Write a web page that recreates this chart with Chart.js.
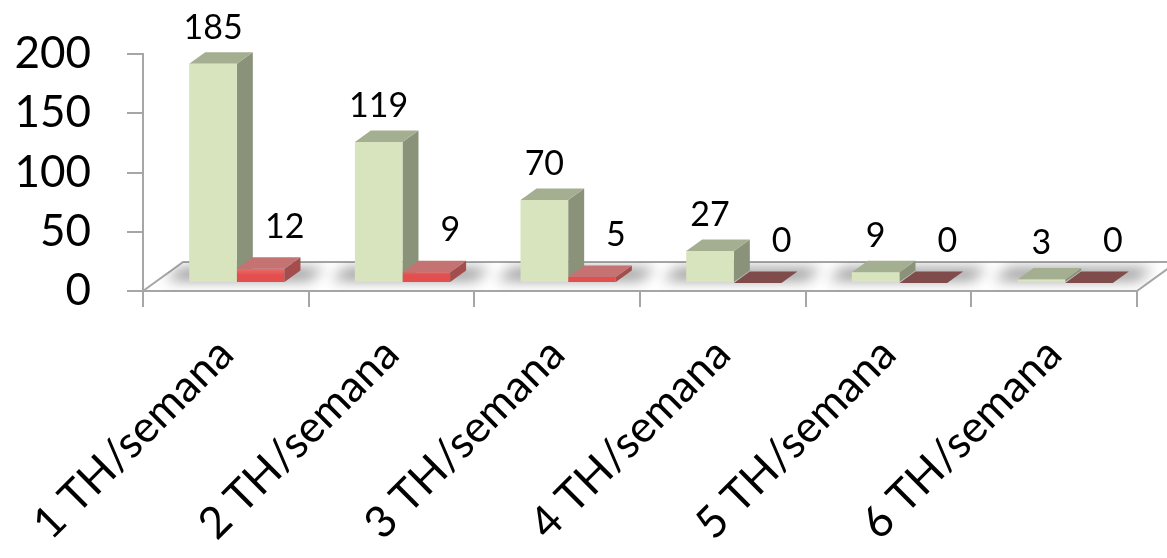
<!DOCTYPE html>
<html>
<head>
<meta charset="utf-8">
<script src="https://cdn.jsdelivr.net/npm/chart.js@4.4.1/dist/chart.umd.min.js"></script>
<style>
  html, body { margin: 0; padding: 0; background: #ffffff; }
  #wrap { width: 1167px; height: 558px; }
</style>
</head>
<body>
<div id="wrap"><canvas id="c" width="1167" height="558"></canvas></div>
<script>
// Weekly frequency categories and the two counted series
const categories = ['1 TH/semana', '2 TH/semana', '3 TH/semana', '4 TH/semana', '5 TH/semana', '6 TH/semana'];
const seriesGreen = [185, 119, 70, 27, 9, 3];
const seriesRed = [12, 9, 5, 0, 0, 0];
const yTicks = [0, 50, 100, 150, 200];

const FONT = 'Lato, "Open Sans", sans-serif';
const AXIS_GRAY = '#a6a6a6';

// 3-D look: bars stand part-way into the floor, each with a short depth
const FLOOR = { dx: 40, dy: -29 };
const BAR_SHIFT = { dx: 11, dy: -8 };
const BAR_DEPTH = { dx: 16, dy: -11.5 };

const STYLE = [
  { front: '#d7e4bd', top: '#a4ae90', topFlat: '#a4ae90', side: '#8a9379', label: { dx: 0, gap: 25 } },
  { front: null, top: '#c47272', topFlat: '#7f4b4b', side: '#a34d4d', label: { dx: 24, gap: 31 } }
];

function redGradient(context) {
  const chart = context.chart;
  const y = chart.scales.y;
  if (!y || !chart.chartArea) return '#f07a7a';
  const g = chart.ctx.createLinearGradient(0, y.getPixelForValue(14) + BAR_SHIFT.dy, 0, y.getPixelForValue(0) + BAR_SHIFT.dy);
  g.addColorStop(0, '#ff9c9c');
  g.addColorStop(1, '#e34f4f');
  return g;
}

function barProps(chart, dsIndex) {
  return chart.getDatasetMeta(dsIndex).data.map(el => el.getProps(['x', 'y', 'base', 'width'], true));
}

// side and top faces of one series (drawn in the shifted bar space)
function drawFaces(chart, dsIndex) {
  const ctx = chart.ctx;
  const st = STYLE[dsIndex];
  barProps(chart, dsIndex).forEach(b => {
    const xl = b.x - b.width / 2, xr = b.x + b.width / 2;
    const yt = Math.min(b.y, b.base), yb = b.base;
    const tall = yb - yt > 0.5;
    if (tall) {
      ctx.fillStyle = st.side;
      ctx.beginPath();
      ctx.moveTo(xr, yt);
      ctx.lineTo(xr + BAR_DEPTH.dx, yt + BAR_DEPTH.dy);
      ctx.lineTo(xr + BAR_DEPTH.dx, yb + BAR_DEPTH.dy);
      ctx.lineTo(xr, yb);
      ctx.closePath();
      ctx.fill();
    }
    ctx.fillStyle = tall ? st.top : st.topFlat;
    ctx.beginPath();
    ctx.moveTo(xl, yt);
    ctx.lineTo(xl + BAR_DEPTH.dx, yt + BAR_DEPTH.dy);
    ctx.lineTo(xr + BAR_DEPTH.dx, yt + BAR_DEPTH.dy);
    ctx.lineTo(xr, yt);
    ctx.closePath();
    ctx.fill();
  });
}

const box3d = {
  id: 'box3d',
  beforeDatasetsDraw(chart) {
    const ctx = chart.ctx;
    const area = chart.chartArea;
    const x0 = area.left, x1 = area.right, yb = area.bottom;
    // floor outline (front edge is the x axis border)
    ctx.save();
    ctx.strokeStyle = AXIS_GRAY;
    ctx.lineWidth = 2;
    ctx.beginPath();
    ctx.moveTo(x0, yb);
    ctx.lineTo(x0 + FLOOR.dx, yb + FLOOR.dy);
    ctx.lineTo(x1 + FLOOR.dx, yb + FLOOR.dy);
    ctx.lineTo(x1, yb);
    ctx.stroke();

    // soft shadows cast on the floor around each pair of bars
    ctx.beginPath();
    ctx.moveTo(x0, yb);
    ctx.lineTo(x0 + FLOOR.dx, yb + FLOOR.dy);
    ctx.lineTo(x1 + FLOOR.dx, yb + FLOOR.dy);
    ctx.lineTo(x1, yb);
    ctx.closePath();
    ctx.clip();
    const g = barProps(chart, 0), r = barProps(chart, 1);
    ctx.filter = 'blur(7px)';
    ctx.fillStyle = 'rgba(0,0,0,0.45)';
    for (let i = 0; i < g.length; i++) {
      const L = g[i].x - g[i].width / 2 + BAR_SHIFT.dx - 24;
      const R = r[i].x + r[i].width / 2 + BAR_SHIFT.dx + 24;
      const yf = g[i].base + BAR_SHIFT.dy - 2;
      ctx.beginPath();
      ctx.moveTo(L, yf);
      ctx.lineTo(L + BAR_DEPTH.dx, yf + BAR_DEPTH.dy);
      ctx.lineTo(R + BAR_DEPTH.dx, yf + BAR_DEPTH.dy);
      ctx.lineTo(R, yf);
      ctx.closePath();
      ctx.fill();
    }
    ctx.restore();
  },
  beforeDatasetDraw(chart, args) {
    const ctx = chart.ctx;
    ctx.save();
    ctx.translate(BAR_SHIFT.dx, BAR_SHIFT.dy);
    // the left series' depth faces sit behind the right series' fronts
    if (args.index === 1) drawFaces(chart, 0);
  },
  afterDatasetDraw(chart, args) {
    if (args.index === 1) drawFaces(chart, 1);
    chart.ctx.restore();
  },
  afterDatasetsDraw(chart) {
    // value labels above each bar
    const ctx = chart.ctx;
    ctx.save();
    ctx.font = '34px ' + FONT;
    ctx.fillStyle = '#000000';
    ctx.textAlign = 'center';
    ctx.textBaseline = 'alphabetic';
    chart.data.datasets.forEach((ds, di) => {
      const st = STYLE[di];
      barProps(chart, di).forEach((b, i) => {
        ctx.fillText(String(ds.data[i]), b.x + BAR_SHIFT.dx + st.label.dx, b.y + BAR_SHIFT.dy - st.label.gap);
      });
    });
    ctx.restore();
  }
};

new Chart(document.getElementById('c'), {
  type: 'bar',
  data: {
    labels: categories,
    datasets: [
      { data: seriesGreen, backgroundColor: STYLE[0].front, borderWidth: 0 },
      { data: seriesRed, backgroundColor: redGradient, borderWidth: 0 }
    ]
  },
  options: {
    responsive: false,
    animation: false,
    devicePixelRatio: 1,
    layout: { padding: { top: 54, right: 30, left: 0, bottom: 0 } },
    plugins: { legend: { display: false }, tooltip: { enabled: false } },
    datasets: { bar: { categoryPercentage: 0.575, barPercentage: 1 } },
    scales: {
      x: {
        grid: { drawOnChartArea: false, color: AXIS_GRAY, lineWidth: 2, tickLength: 16, offset: true },
        border: { color: AXIS_GRAY, width: 2 },
        ticks: {
          autoSkip: false, maxRotation: 45, minRotation: 45,
          font: { family: FONT, size: 44 }, color: '#000000', padding: 21
        },
        afterFit(scale) { scale.height = 267; scale.paddingLeft = 0; scale.paddingRight = 0; }
      },
      y: {
        min: 0, max: 200,
        afterBuildTicks(scale) { scale.ticks = yTicks.map(v => ({ value: v })); },
        grid: { drawOnChartArea: false, color: AXIS_GRAY, lineWidth: 2, tickLength: 16 },
        border: { color: AXIS_GRAY, width: 2 },
        ticks: { font: { family: FONT, size: 44 }, color: '#000000', padding: 36 },
        afterFit(scale) { scale.width = 143; scale.paddingTop = 0; scale.paddingBottom = 0; }
      }
    }
  },
  plugins: [box3d]
});
</script>
</body>
</html>
